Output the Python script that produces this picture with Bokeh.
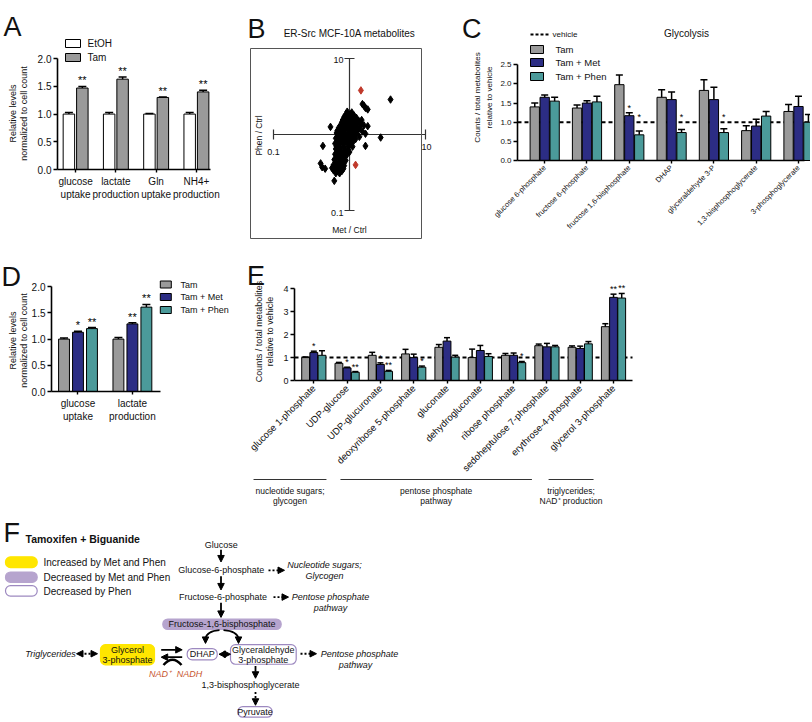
import math
from bokeh.plotting import figure
from bokeh.models import (Range1d, FixedTicker, PrintfTickFormatter, Whisker, TeeHead, LinearAxis,
                          ColumnDataSource, Label, Arrow, NormalHead, BoxAnnotation)
from bokeh.layouts import column, row
from bokeh.core.properties import value
from bokeh.embed import file_html
from bokeh.resources import INLINE

FONT = "Liberation Sans"
INK = "#111111"
GRAY = "#9a9a9a"
NAVY = "#2c2d84"
TEAL = "#4b9a9a"
RED = "#c0392b"

# ---------------- Panel A data ----------------
a_categories = ["glucose\nuptake", "lactate\nproduction", "Gln\nuptake", "NH4+\nproduction"]
a_series = ["EtOH", "Tam"]
a_etoh = [1.00, 1.00, 1.00, 1.00]
a_etoh_err = [0.03, 0.03, 0.01, 0.03]
a_tam = [1.47, 1.63, 1.30, 1.40]
a_tam_err = [0.03, 0.04, 0.01, 0.03]
a_tam_sig = ["**", "**", "**", "**"]
a_yticks = [0.0, 0.5, 1.0, 1.5, 2.0]

# ---------------- Panel B data (log10 of ratios) ----------------
b_met_log10 = [
    -0.03, 0.03,
    -0.05, 0.00, 0.06,
    -0.07, -0.01, 0.04, 0.09,
    -0.09, -0.04, 0.01, 0.07, 0.12, 0.16,
    -0.10, -0.06, 0.00, 0.05, 0.10, 0.15,
    -0.12, -0.07, -0.02, 0.03, 0.08, 0.14, 0.19,
    -0.14, -0.08, -0.03, 0.02, 0.07, 0.13,
    -0.16, -0.11, -0.06, 0.00, 0.05, 0.10, 0.17,
    -0.17, -0.12, -0.07, -0.01, 0.04, 0.09, 0.21,
    -0.15, -0.10, -0.05, 0.00, 0.06, 0.13,
    -0.18, -0.13, -0.07, -0.02, 0.03, 0.08,
    -0.16, -0.11, -0.06, 0.00, 0.05,
    -0.19, -0.14, -0.08, -0.03, 0.02,
    -0.17, -0.12, -0.07, -0.01, 0.04,
    -0.18, -0.13, -0.07, -0.02,
    -0.16, -0.11, -0.06, 0.00,
    -0.19, -0.14, -0.08, -0.03,
    -0.17, -0.12, -0.07,
    -0.20, -0.14, -0.09, -0.05,
    -0.18, -0.13, -0.07,
    -0.21, -0.16, -0.11, -0.07,
    -0.23, -0.18, -0.13, -0.08,
    -0.21, -0.15, -0.10,
    -0.18, -0.13,
    -0.38, -0.36, -0.32, -0.20, -0.35, -0.25, 0.24, 0.41, 0.21, 0.54, 0.17, 0.19, 0.21, 0.24,
]
b_phen_log10 = [
    0.30, 0.29,
    0.26, 0.26, 0.25,
    0.23, 0.23, 0.22, 0.22,
    0.19, 0.19, 0.19, 0.19, 0.18, 0.19,
    0.16, 0.16, 0.16, 0.16, 0.15, 0.15,
    0.12, 0.12, 0.12, 0.12, 0.12, 0.11, 0.12,
    0.09, 0.09, 0.09, 0.09, 0.08, 0.08,
    0.05, 0.05, 0.05, 0.05, 0.05, 0.04, 0.04,
    0.02, 0.02, 0.02, 0.02, 0.01, 0.01, 0.01,
    -0.02, -0.02, -0.02, -0.02, -0.02, -0.03,
    -0.05, -0.05, -0.05, -0.05, -0.06, -0.06,
    -0.09, -0.09, -0.09, -0.09, -0.09,
    -0.12, -0.12, -0.12, -0.12, -0.13,
    -0.16, -0.16, -0.16, -0.16, -0.16,
    -0.19, -0.19, -0.19, -0.20,
    -0.23, -0.23, -0.23, -0.23,
    -0.26, -0.26, -0.26, -0.26,
    -0.30, -0.30, -0.30,
    -0.33, -0.33, -0.33, -0.34,
    -0.37, -0.37, -0.37,
    -0.40, -0.40, -0.40, -0.41,
    -0.44, -0.44, -0.44, -0.45,
    -0.47, -0.47, -0.48,
    -0.51, -0.51,
    -0.38, -0.43, -0.45, -0.61, -0.15, 0.10, 0.11, -0.04, -0.15, 0.46, 0.40, 0.38, 0.35, 0.33,
]
b_red_met_log10 = [0.15, 0.08]
b_red_phen_log10 = [0.58, -0.40]
b_axis_limits = [0.1, 10.0]

# ---------------- Panel C data ----------------
c_categories = ["glucose 6-phosphate", "fructose 6-phosphate", "fructose 1,6-bisphosphate", "DHAP",
                "glyceraldehyde 3-P", "1,3-bisphosphoglycerate", "3-phosphoglycerate"]
c_vehicle = 1.0
c_tam = [1.40, 1.37, 1.98, 1.65, 1.83, 0.78, 1.28]
c_tam_err = [0.10, 0.08, 0.25, 0.20, 0.28, 0.13, 0.18]
c_met = [1.65, 1.50, 1.17, 1.59, 1.59, 0.90, 1.41]
c_met_err = [0.06, 0.06, 0.08, 0.20, 0.32, 0.18, 0.27]
c_phen = [1.55, 1.53, 0.67, 0.73, 0.73, 1.16, 1.00]
c_phen_err = [0.10, 0.15, 0.10, 0.08, 0.10, 0.12, 0.20]
c_met_sig = ["", "", "*", "", "", "", ""]
c_phen_sig = ["", "", "*", "*", "*", "", ""]
c_yticks = [0.0, 0.5, 1.0, 1.5, 2.0, 2.5]
series_names = ["Tam", "Tam + Met", "Tam + Phen"]

# ---------------- Panel D data ----------------
d_categories = ["glucose\nuptake", "lactate\nproduction"]
d_tam = [1.00, 1.00]
d_tam_err = [0.02, 0.03]
d_met = [1.13, 1.29]
d_met_err = [0.02, 0.02]
d_phen = [1.20, 1.61]
d_phen_err = [0.02, 0.05]
d_met_sig = ["*", "**"]
d_phen_sig = ["**", "**"]
d_yticks = [0.0, 0.5, 1.0, 1.5, 2.0]

# ---------------- Panel E data ----------------
e_categories = ["glucose 1-phosphate", "UDP-glucose", "UDP-glucuronate", "deoxyribose 5-phosphate",
                "gluconate", "dehydrogluconate", "ribose phosphate", "sedoheptulose 7-phosphate",
                "erythrose-4-phosphate", "glycerol 3-phosphate"]
e_tam = [1.00, 0.75, 1.10, 1.16, 1.45, 1.00, 1.10, 1.52, 1.45, 2.35]
e_tam_err = [0.03, 0.04, 0.13, 0.20, 0.12, 0.37, 0.08, 0.07, 0.06, 0.13]
e_met = [1.22, 0.55, 0.70, 1.00, 1.72, 1.31, 1.10, 1.47, 1.40, 3.63]
e_met_err = [0.06, 0.03, 0.07, 0.15, 0.15, 0.22, 0.10, 0.15, 0.10, 0.14]
e_phen = [1.10, 0.36, 0.40, 0.58, 1.02, 1.05, 0.78, 1.47, 1.60, 3.60]
e_phen_err = [0.20, 0.03, 0.04, 0.05, 0.08, 0.12, 0.05, 0.06, 0.10, 0.20]
e_met_sig = ["*", "*", "*", "", "", "", "", "", "", "**"]
e_phen_sig = ["", "**", "**", "*", "", "", "*", "", "", "**"]
e_yticks = [0, 1, 2, 3, 4]
e_groups = ["nucleotide sugars;\nglycogen", "pentose phosphate\npathway", "triglycerides;\nNAD\u207a production"]
e_group_start = [-1.81, 0.80, 7.05]
e_group_end = [0.38, 6.55, 8.40]


# ---------------- helpers ----------------
def _m(r, f, log):
    if log:
        a, b = math.log10(r[0]), math.log10(r[1])
        return 10 ** (a + f * (b - a))
    return r[0] + f * (r[1] - r[0])


class Geo:
    """Canvas at page (ox, oy, w, h); plot rectangle (left, top, pw, ph) shows ranges xr, yr."""

    def __init__(self, ox, oy, w, h, left, top, pw, ph, xr, yr, xlog=False, ylog=False):
        self.ox, self.oy, self.w, self.h = ox, oy, w, h
        self.left, self.top, self.pw, self.ph = left, top, pw, ph
        self.xr, self.yr, self.xlog, self.ylog = xr, yr, xlog, ylog
        self.cx = (self.pt(ox, 0)[0], self.pt(ox + w, 0)[0])
        self.cy = (self.pt(0, oy + h)[1], self.pt(0, oy)[1])

    def pt(self, X, Y):
        return (_m(self.xr, (X - self.left) / self.pw, self.xlog),
                _m(self.yr, (self.top + self.ph - Y) / self.ph, self.ylog))


def make_fig(g):
    p = figure(width=g.w, height=g.h, frame_width=g.w, frame_height=g.h,
               x_range=Range1d(*g.cx), y_range=Range1d(*g.cy),
               x_axis_type="log" if g.xlog else "linear",
               y_axis_type="log" if g.ylog else "linear",
               x_axis_location=None, y_axis_location=None,
               output_backend="svg", toolbar_location=None, min_border=0)
    p.outline_line_color = None
    p.grid.visible = False
    return p


def dlabel(p, x, y, text, size, align="center", baseline="middle", angle=0, style="normal", color=INK):
    p.add_layout(Label(x=x, y=y, text=text, text_font=FONT, text_font_size=f"{size}px",
                       text_align=align, text_baseline=baseline, angle=angle,
                       text_font_style=style, text_color=color))


def label(p, g, X, Y, text, size, **kw):
    x, y = g.pt(X, Y)
    dlabel(p, x, y, text, size, **kw)


def letter(p, g, X, Ybase, text):
    label(p, g, X, Ybase, text, 27, align="left", baseline="alphabetic")


def add_axes(p, g, yticks, yfmt, ybounds, xlabels, xfont, yfont, xbounds=None, orient=None):
    n = len(xlabels)
    yax = LinearAxis(fixed_location=g.xr[0], ticker=FixedTicker(ticks=yticks),
                     formatter=PrintfTickFormatter(format=yfmt), bounds=ybounds)
    xax = LinearAxis(fixed_location=0, ticker=FixedTicker(ticks=list(range(n))),
                     major_label_overrides={i: t for i, t in enumerate(xlabels)},
                     bounds=xbounds if xbounds else g.xr)
    if orient:
        xax.major_label_orientation = orient
    for ax in (xax, yax):
        ax.axis_line_width = 1.6
        ax.axis_line_color = "black"
        ax.major_tick_line_width = 1.4
        ax.major_tick_line_color = "black"
        ax.major_tick_in = 0
        ax.major_tick_out = 4
        ax.minor_tick_line_color = None
        ax.major_label_text_font = FONT
        ax.major_label_text_color = INK
    yax.major_label_text_font_size = yfont
    xax.major_label_text_font_size = xfont
    yax.major_label_standoff = 2
    xax.major_label_standoff = 3
    xax.major_tick_out = 3
    p.add_layout(yax, "left")
    p.add_layout(xax, "below")


def grouped(p, vals, errs, offset, width, color, cap, sig=None, sig_floor=None, sig_size="10px"):
    xs = [i + offset for i in range(len(vals))]
    p.vbar(x=xs, top=vals, width=width, bottom=0, fill_color=color, line_color="black", line_width=1)
    tops = [v + e for v, e in zip(vals, errs)]
    src = ColumnDataSource(dict(base=xs, lower=vals, upper=tops))
    p.add_layout(Whisker(source=src, base="base", lower="lower", upper="upper", dimension="height",
                         lower_head=None,
                         upper_head=TeeHead(size=cap, line_width=1.5, line_color="black"),
                         line_width=1.5, line_color="black", level="annotation"))
    if sig:
        ys = [max(t, sig_floor) if sig_floor is not None else t for t in tops]
        p.text(x=xs, y=ys, text=sig, text_align="center", text_baseline="bottom",
               text_font=value(FONT), text_font_size=sig_size, text_color="black")


def legend(p, g, X, Ys, names, colors, bw, bh, tx, size):
    pts = [g.pt(X, Y) for Y in Ys]
    p.rect(x=[q[0] for q in pts], y=[q[1] for q in pts], width=bw, height=bh,
           width_units="screen", height_units="screen",
           fill_color=colors, line_color="black", line_width=1)
    for Y, n in zip(Ys, names):
        label(p, g, tx, Y, n, size, align="left")


# ---------------- Panel A ----------------
gA = Geo(0, 0, 228, 244, 57, 36, 153, 133, (-0.45, 3.35), (0, 2.4))
pA = make_fig(gA)
add_axes(pA, gA, a_yticks, "%.1f", (0, 2.0), a_categories, "10px", "10px")
grouped(pA, a_etoh, a_etoh_err, -0.167, 0.285, "white", 8)
grouped(pA, a_tam, a_tam_err, 0.167, 0.285, GRAY, 8, a_tam_sig, sig_size="11px")
legend(pA, gA, 72.5, [43, 57], a_series, ["white", GRAY], 15, 8, 87, 10)
label(pA, gA, 12, 113, "Relative levels", 9, angle=math.pi / 2)
label(pA, gA, 23, 113, "normalized to cell count", 9, angle=math.pi / 2)
letter(pA, gA, 3, 26.5, "A")

# ---------------- Panel B ----------------
gB = Geo(228, 0, 206, 244, 250, 48, 171, 190,
         (10 ** -1.3026, 10 ** 0.9474), (10 ** -1.3684, 10 ** 1.1316), xlog=True, ylog=True)
pB = make_fig(gB)
pB.add_layout(BoxAnnotation(left=gB.xr[0], right=gB.xr[1], bottom=gB.yr[0], top=gB.yr[1],
                            fill_color=None, line_color="#555555", line_width=1, line_alpha=1))
for dim in ("width", "height"):
    src = ColumnDataSource(dict(base=[1.0], lower=[b_axis_limits[0]], upper=[b_axis_limits[1]]))
    pB.add_layout(Whisker(source=src, base="base", lower="lower", upper="upper", dimension=dim,
                          lower_head=TeeHead(size=10, line_width=1.2, line_color="#333333"),
                          upper_head=TeeHead(size=10, line_width=1.2, line_color="#333333"),
                          line_width=1.2, line_color="#333333", level="underlay"))
pB.scatter(x=[10 ** v for v in b_met_log10], y=[10 ** v for v in b_phen_log10],
           marker="diamond", size=7.5, color="black")
pB.scatter(x=[10 ** v for v in b_red_met_log10], y=[10 ** v for v in b_red_phen_log10],
           marker="diamond", size=7.5, color=RED)
label(pB, gB, 349, 33, "ER-Src MCF-10A metabolites", 10)
label(pB, gB, 343, 59, "10", 9, align="right")
label(pB, gB, 343, 212, "0.1", 9, align="right")
label(pB, gB, 273, 151, "0.1", 9)
label(pB, gB, 426, 146, "10", 9)
label(pB, gB, 258, 135, "Phen / Ctrl", 8.5, angle=math.pi / 2)
label(pB, gB, 349, 229, "Met / Ctrl", 8.5)
letter(pB, gB, 247, 28, "B")

# ---------------- Panel C ----------------
gC = Geo(434, 0, 376, 244, 517, 26, 287, 134, (-0.643, 6.142), (0, 3.4987))
pC = make_fig(gC)
add_axes(pC, gC, c_yticks, "%.1f", (0, 2.5), c_categories, "7.5px", "8px", orient=math.pi / 4)
pC.line(x=[gC.xr[0], gC.cx[1]], y=[c_vehicle, c_vehicle], line_dash="4 3", line_width=2, line_color="black")
grouped(pC, c_tam, c_tam_err, -0.235, 0.22, GRAY, 7)
grouped(pC, c_met, c_met_err, 0.0, 0.22, NAVY, 7, c_met_sig, sig_floor=c_vehicle, sig_size="9px")
grouped(pC, c_phen, c_phen_err, 0.235, 0.22, TEAL, 7, c_phen_sig, sig_floor=c_vehicle, sig_size="9px")
v0 = gC.pt(530, 34)
v1 = gC.pt(548, 34)
pC.line(x=[v0[0], v1[0]], y=[v0[1], v1[1]], line_dash="3 2", line_width=2, line_color="black")
label(pC, gC, 552, 34, "vehicle", 8, align="left")
legend(pC, gC, 536.5, [49, 62, 76], series_names, [GRAY, NAVY, TEAL], 13, 8, 555, 9.5)
label(pC, gC, 686, 33, "Glycolysis", 10)
label(pC, gC, 477, 97, "Counts / total metabolites", 8, angle=math.pi / 2)
label(pC, gC, 488.5, 97, "relative to vehicle", 8, angle=math.pi / 2)
letter(pC, gC, 461.5, 28, "C")

# ---------------- Panel D ----------------
gD = Geo(0, 244, 232, 263, 51, 279, 171, 112, (-0.487, 2.656), (0, 2.137))
pD = make_fig(gD)
add_axes(pD, gD, d_yticks, "%.1f", (0, 2.0), d_categories, "10px", "10px", xbounds=(-0.487, 1.517))
grouped(pD, d_tam, d_tam_err, -0.257, 0.2, GRAY, 8)
grouped(pD, d_met, d_met_err, 0.0, 0.2, NAVY, 8, d_met_sig, sig_size="11px")
grouped(pD, d_phen, d_phen_err, 0.257, 0.2, TEAL, 8, d_phen_sig, sig_size="11px")
legend(pD, gD, 165.3, [284, 296.5, 309.5], series_names, [GRAY, NAVY, TEAL], 11, 7, 180, 9)
label(pD, gD, 12, 340, "Relative levels", 9, angle=math.pi / 2)
label(pD, gD, 23, 340, "normalized to cell count", 9, angle=math.pi / 2)
letter(pD, gD, 1, 276.5, "D")

# ---------------- Panel E ----------------
gE = Geo(232, 244, 578, 263, 294, 279, 338, 101, (-0.58, 9.57), (0, 4.41))
pE = make_fig(gE)
add_axes(pE, gE, e_yticks, "%d", (0, 4), e_categories, "9.5px", "9px", orient=math.pi / 4)
pE.line(x=[gE.xr[0], gE.xr[1]], y=[c_vehicle, c_vehicle], line_dash="4 3", line_width=2, line_color="black")
grouped(pE, e_tam, e_tam_err, -0.246, 0.235, GRAY, 6)
grouped(pE, e_met, e_met_err, 0.0, 0.235, NAVY, 6, e_met_sig, sig_size="9px")
grouped(pE, e_phen, e_phen_err, 0.246, 0.235, TEAL, 6, e_phen_sig, sig_size="9px")
yb = gE.pt(0, 479)[1]
for name, s, e in zip(e_groups, e_group_start, e_group_end):
    pE.add_layout(Arrow(x_start=s, y_start=yb, x_end=e, y_end=yb, end=None,
                        line_width=1, line_color="#333333"))
    for k, line in enumerate(name.split("\n")):
        dlabel(pE, (s + e) / 2, gE.pt(0, 490 + 10.5 * k)[1], line, 8.5)
label(pE, gE, 258.5, 331, "Counts / total metabolites", 9, angle=math.pi / 2)
label(pE, gE, 269.5, 331, "relative to vehicle", 9, angle=math.pi / 2)
letter(pE, gE, 246.5, 275, "E")

# ---------------- Panel F (pathway diagram) ----------------
pF = figure(width=810, height=211, frame_width=810, frame_height=211,
            x_range=Range1d(0, 810), y_range=Range1d(-722, -507),
            x_axis_location=None, y_axis_location=None,
            output_backend="svg", toolbar_location=None, min_border=0)
pF.grid.visible = False
pF.outline_line_color = None

YEL = "#ffe600"
PUR = "#b6a4ce"
PURL = "#9d89c0"
ORANGE = "#c8562f"

f_boxes = [
    (5, 36.7, 557.3, 568.3, YEL, YEL),
    (5, 36.7, 572.7, 583.3, PUR, PUR),
    (5, 36.7, 586.7, 597.3, "white", PURL),
    (162.3, 280.7, 620.7, 631.3, PUR, PUR),
    (186.7, 216.7, 650.7, 662.3, "white", PURL),
    (230, 295.7, 646.7, 666.7, "white", PURL),
    (237.3, 271.7, 710, 720.7, "white", PURL),
    (100, 154, 646.7, 667.3, YEL, YEL),
]
for l, r, t, b, fc, lc in f_boxes:
    pF.quad(left=[l], right=[r], top=[-t], bottom=[-b], fill_color=fc, line_color=lc,
            line_width=1.2, border_radius=5)

f_texts = [
    ("F", 3, 533, 27, "left", "normal", INK, "alphabetic"),
    ("Tamoxifen + Biguanide", 25, 539, 10.5, "left", "bold", INK, "middle"),
    ("Increased by Met and Phen", 43, 563, 10, "left", "normal", INK, "middle"),
    ("Decreased by Met and Phen", 43, 578, 10, "left", "normal", INK, "middle"),
    ("Decreased by Phen", 43, 592.5, 10, "left", "normal", INK, "middle"),
    ("Glucose", 220.7, 545, 9, "center", "normal", INK, "middle"),
    ("Glucose-6-phosphate", 220.8, 571, 9, "center", "normal", INK, "middle"),
    ("Nucleotide sugars;", 324, 566, 9, "center", "italic", INK, "middle"),
    ("Glycogen", 324, 576.7, 9, "center", "italic", INK, "middle"),
    ("Fructose-6-phosphate", 222.5, 598.3, 9, "center", "normal", INK, "middle"),
    ("Pentose phosphate", 330, 598.3, 9, "center", "italic", INK, "middle"),
    ("pathway", 330, 609, 9, "center", "italic", INK, "middle"),
    ("Fructose-1,6-bisphosphate", 221.5, 626, 9, "center", "normal", INK, "middle"),
    ("DHAP", 201.7, 656.5, 9, "center", "normal", INK, "middle"),
    ("Glyceraldehyde", 262.8, 651.7, 9, "center", "normal", INK, "middle"),
    ("3-phosphate", 262.8, 662.5, 9, "center", "normal", INK, "middle"),
    ("Pentose phosphate", 359, 656, 9, "center", "italic", INK, "middle"),
    ("pathway", 355, 667.3, 9, "center", "italic", INK, "middle"),
    ("1,3-bisphosphoglycerate", 250, 688.3, 9, "center", "normal", INK, "middle"),
    ("Pyruvate", 254.5, 715.3, 9, "center", "normal", INK, "middle"),
    ("Glycerol", 127, 651.7, 9, "center", "normal", INK, "middle"),
    ("3-phosphate", 127, 662.7, 9, "center", "normal", INK, "middle"),
    ("Triglycerides", 50, 656, 9, "center", "italic", INK, "middle"),
    ("NAD\u207a", 159.5, 676.7, 9, "center", "italic", ORANGE, "middle"),
    ("NADH", 189, 676.7, 9, "center", "italic", ORANGE, "middle"),
]
for t, x, y, s, al, st, col, bl in f_texts:
    pF.text(x=[x], y=[-y], text=[t], text_font=value(FONT), text_font_size=f"{s}px",
            text_align=al, text_baseline=bl, text_font_style=st, text_color=col)


def farrow(x0, y0, x1, y1, dash=None, both=False, width=1.8):
    kw = dict(line_width=width, line_color="black")
    if dash:
        kw["line_dash"] = dash
    head = lambda: NormalHead(size=6.5, fill_color="black", line_color="black", line_width=1)
    pF.add_layout(Arrow(x_start=x0, y_start=-y0, x_end=x1, y_end=-y1, end=head(),
                        start=head() if both else None, **kw))


farrow(220.5, 550, 220.5, 562.5)
farrow(220.5, 577, 220.5, 591)
farrow(220.5, 604, 220.5, 619)
farrow(255, 668.5, 255, 681)
farrow(218.5, 656.5, 230, 656.5, both=True)
farrow(268, 571, 284, 571, dash="2 2")
farrow(273, 598.3, 288, 598.3, dash="2 2")
farrow(300, 656, 316, 656, dash="2 2")
farrow(255, 695, 255, 708.5, dash="2 2")
farrow(76, 656, 97, 656, dash="2 2", both=True)
farrow(160.7, 652, 181.7, 652)
farrow(181.7, 659.5, 160.7, 659.5)
# curved arrows from Fructose-1,6-bisphosphate
pF.quadratic(x0=[219, 223], y0=[-632, -632], x1=[205, 238], y1=[-641, -641],
             cx=[206, 237], cy=[-633, -633], line_width=1.8, line_color="black")
farrow(205, 639, 205, 645.5)
farrow(238, 639, 238, 645.5)
# cofactor arc
pF.quadratic(x0=[163], y0=[-667.5], x1=[181], y1=[-667.5], cx=[172], cy=[-657],
             line_width=2.5, line_color="black")

layout = column(row(pA, pB, pC), row(pD, pE), pF)
open("out.html", "w").write(file_html(layout, INLINE, "Figure"))
